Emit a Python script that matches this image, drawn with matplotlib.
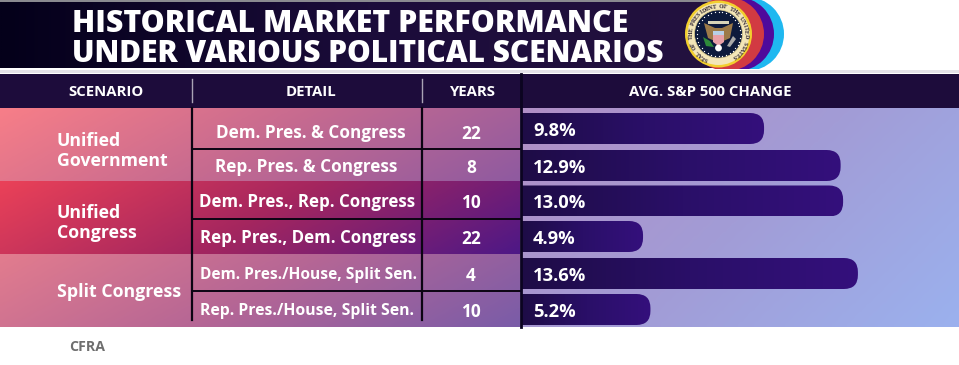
import numpy as np
import matplotlib
matplotlib.use("Agg")
import matplotlib.pyplot as plt
from matplotlib.patches import FancyBboxPatch, Rectangle, Circle, Polygon
from matplotlib.colors import LinearSegmentedColormap

plt.rcParams['font.family'] = ['Open Sans', 'DejaVu Sans']

title_lines = ["HISTORICAL MARKET PERFORMANCE", "UNDER VARIOUS POLITICAL SCENARIOS"]
headers = ["SCENARIO", "DETAIL", "YEARS", "AVG. S&P 500 CHANGE"]
scenarios = ["Unified\nGovernment", "Unified\nCongress", "Split Congress"]
details = ["Dem. Pres. & Congress", "Rep. Pres. & Congress",
           "Dem. Pres., Rep. Congress", "Rep. Pres., Dem. Congress",
           "Dem. Pres./House, Split Sen.", "Rep. Pres./House, Split Sen."]
years = [22, 8, 10, 22, 4, 10]
changes = [9.8, 12.9, 13.0, 4.9, 13.6, 5.2]
source = "CFRA"
seal_text = "SEAL OF THE PRESIDENT OF THE UNITED STATES"

W, H = 959, 365
fig = plt.figure(figsize=(W / 100, H / 100), dpi=100)
ax = fig.add_axes([0, 0, 1, 1])
ax.set_xlim(0, W)
ax.set_ylim(H, 0)
ax.axis('off')

def gradient(x0, x1, y0, y1, colors, tilt=0.25):
    # diagonal fill, tilt is how much y counts against x
    nx, ny = 200, 40
    xx, yy = np.meshgrid(np.linspace(0, 1, nx), np.linspace(0, 1, ny))
    g = (xx + tilt * yy) / (1 + tilt)
    cmap = LinearSegmentedColormap.from_list('g', colors)
    return ax.imshow(g, extent=[x0, x1, y1, y0], cmap=cmap, aspect='auto', zorder=1,
                     interpolation='bilinear')

# title band
gradient(0, 735, 2, 68, ['#04001a', '#1b0c3a', '#24123f'], tilt=0)
ax.add_patch(Rectangle((0, 0), 725, 1.5, color='#8a8a90', lw=0, zorder=2))
ax.add_patch(Rectangle((0, 70), W, 3, color='#e4e2e8', lw=0, zorder=2))
for line, y, size in zip(title_lines, [23.5, 53.5], [21.8, 21.5]):
    ax.text(72, y, line, color='white', fontsize=size, fontweight=800, va='center',
            ha='left', zorder=5)

# arcs behind the seal
for cx, col in [(747, '#1fb8f0'), (737, '#4f0a9c'), (727, '#d23a42')]:
    c = Circle((cx, 34), 37, color=col, lw=0, zorder=3)
    ax.add_patch(c)
    c.set_clip_path(Rectangle((670, 0), 130, 68.5, transform=ax.transData))

# seal
ax.add_patch(Circle((718.5, 34), 33.5, color='#f2cf2e', lw=0, zorder=4))
ax.add_patch(Circle((718.5, 34), 31, color='#f3e6b8', lw=0, zorder=4))
ax.add_patch(Circle((718.5, 34), 24, color='#0d1a3c', ec='#d8c88a', lw=0.5, zorder=4))
ang = np.linspace(0, 2 * np.pi, 36, endpoint=False)
ax.scatter(718.5 + 22 * np.cos(ang), 34 + 22 * np.sin(ang), s=0.9, color='white', lw=0, zorder=5)
ax.add_patch(Polygon([(704, 23), (715, 28), (722, 28), (733, 23), (730, 38), (719, 43), (708, 38)],
                     color='#9c7a48', lw=0, zorder=5))
ax.add_patch(Polygon([(713, 34), (724, 34), (724, 42), (718.5, 46), (713, 42)], color='#e8a0a8', lw=0, zorder=6))
ax.add_patch(Rectangle((713, 31), 11, 3.5, color='#b8d0e8', lw=0, zorder=6))
ax.add_patch(Rectangle((708, 21), 21, 3, color='#d8d4b8', lw=0, zorder=6))
ax.add_patch(Circle((718.5, 48), 3.4, color='white', lw=0, zorder=6))
ax.add_patch(Polygon([(703, 37), (710, 41), (714, 47), (706, 46)], color='#2e8a3a', lw=0, zorder=6))
ax.add_patch(Polygon([(727, 46), (733, 36), (736, 39), (730, 47)], color='#a8a8a8', lw=0, zorder=6))
n = len(seal_text)
for i, ch in enumerate(seal_text):
    a = np.deg2rad(115 + 300 * i / (n - 1))
    px, py = 718.5 + 27.5 * np.cos(a), 34 + 27.5 * np.sin(a)
    ax.text(px, py, ch, fontsize=4.2, family='Liberation Serif', color='#2a2030', ha='center',
            va='center', rotation=-np.rad2deg(a) - 90, zorder=6, fontweight='bold')

# header row
ax.add_patch(Rectangle((0, 74), W, 34, color='#1d0c3b', lw=0, zorder=2))
for txt, x in zip(headers, [106, 311, 472, 710]):
    ax.text(x, 92.5, txt, color='white', fontsize=10.7, fontweight='bold', ha='center',
            va='center', zorder=5)
for x in [192, 422]:
    ax.plot([x, x], [79, 102], color='#a9a3b5', lw=1, zorder=5)

# coloured rows
bands = [(108, 181, ['#f77e88', '#c56a90', '#8f5aa0']),
         (181, 254, ['#ea4158', '#a4265f', '#4e1886']),
         (254, 327, ['#e27c8e', '#b56695', '#7a5ca8'])]
for y0, y1, cols in bands:
    gradient(0, 520, y0, y1, cols)
gradient(520, W, 108, 327, ['#b18fc6', '#a29cd6', '#9bb1ee'], tilt=0.5)

# scenario, detail and year cells
row_mid = [133, 167, 202, 238, 275, 311]
detail_x = [310.5, 306.5, 307, 308, 308.5, 307]
for txt, y in zip(scenarios, [151, 223, 292]):
    ax.text(57, y, txt, color='white', fontsize=12.8, fontweight='bold', ha='left', va='center',
            linespacing=1.12, zorder=5)
for txt, x, y, size in zip(details, detail_x, row_mid, [12.3, 12.3, 12.2, 12.2, 11.2, 11.3]):
    ax.text(x, y, txt, color='white', fontsize=size, fontweight='bold', ha='center',
            va='center', zorder=5)
for val, y in zip(years, row_mid):
    ax.text(471, y + 1, str(val), color='white', fontsize=12.4, fontweight='bold', ha='center',
            va='center', zorder=5)

# black table rules
ax.plot([192, 192], [108, 320], color='#0b0412', lw=1.6, zorder=4)
ax.plot([422, 422], [108, 320], color='#0b0412', lw=1.6, zorder=4)
ax.plot([521, 521], [74, 327], color='#0b0420', lw=2, zorder=6)
for y in [148.5, 219, 291]:
    ax.plot([193, 521], [y, y], color='#0b0412', lw=1.4, zorder=4)

# bars
bar_x0 = 522
px_per_pct = 24.7
bar_tops = [113, 150, 185.5, 221, 258, 294]
bar_h = 31
bar_cmap = LinearSegmentedColormap.from_list('bar', ['#1e0c46', '#2a0f68', '#34107c'])
for val, top in zip(changes, bar_tops):
    w = val * px_per_pct
    im = ax.imshow(np.linspace(0, 1, 200).reshape(1, -1), extent=[bar_x0, bar_x0 + w, top + bar_h, top],
                   cmap=bar_cmap, aspect='auto', zorder=3)
    clip = FancyBboxPatch((bar_x0 - 20, top), w + 20, bar_h,
                          boxstyle="round,pad=0,rounding_size=14", transform=ax.transData,
                          fc='none', ec='none')
    ax.add_patch(clip)
    im.set_clip_path(clip)
    ax.text(533, top + bar_h / 2 + 2.5, f"{val:.1f}%", color='white', fontsize=13.2,
            fontweight='bold', ha='left', va='center', zorder=5)

ax.text(69, 347, source, color='#6e6e6e', fontsize=10.2, fontweight='bold', ha='left', va='center')

ax.set_xlim(0, W)
ax.set_ylim(H, 0)
fig.savefig('out.png', dpi=100)
